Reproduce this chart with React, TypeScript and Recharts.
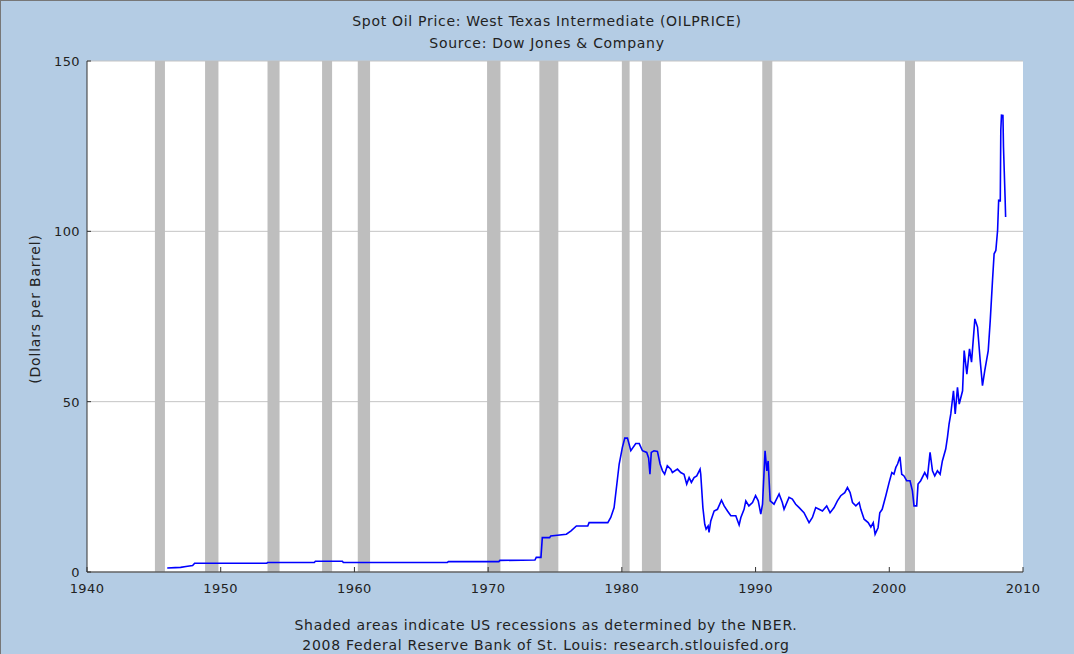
import React from "react";
import { LineChart, Line, XAxis, YAxis, CartesianGrid, ReferenceArea } from "recharts";

// WTI spot price: [decimal year, dollars per barrel]
const postwar: [number, number][] = [
  [1946.0, 1.17], [1946.6, 1.27], [1947.0, 1.37], [1947.4, 1.62], [1947.9, 1.92],
  [1948.05, 2.57], [1953.45, 2.57], [1953.5, 2.8], [1957.0, 2.8], [1957.08, 3.15],
  [1959.1, 3.15], [1959.17, 2.8], [1966.95, 2.8], [1967.03, 3.05], [1970.8, 3.05],
  [1970.88, 3.4], [1973.5, 3.5], [1973.6, 4.3], [1973.95, 4.3],
];

const seventies: [number, number][] = [
  [1974.05, 10.1], [1974.6, 10.1], [1974.68, 10.6], [1975.85, 11.1], [1976.2, 12.1],
  [1976.6, 13.5], [1977.45, 13.5], [1977.55, 14.5], [1978.95, 14.5], [1979.17, 16],
  [1979.42, 18.9], [1979.67, 27.3], [1979.8, 31.7], [1980.04, 36.6], [1980.22, 39.3],
  [1980.42, 39.3], [1980.67, 35.6], [1981.04, 37.7], [1981.3, 37.7], [1981.54, 35.6],
  [1981.86, 35.1], [1982.0, 33.5], [1982.1, 28.7], [1982.2, 35.1], [1982.4, 35.6],
  [1982.66, 35.4], [1982.86, 31.7],
];

const eighties: [number, number][] = [
  [1983.04, 29.7], [1983.2, 28.7], [1983.4, 31.2], [1983.66, 30.2], [1983.78, 29.2],
  [1984.16, 30.2], [1984.4, 29.2], [1984.65, 28.7], [1984.85, 25.8], [1985.03, 27.7],
  [1985.2, 26.3], [1985.4, 27.7], [1985.6, 28.2], [1985.85, 30.2], [1985.9, 28.7],
  [1986.06, 18.9], [1986.2, 14], [1986.3, 12.6], [1986.45, 13.5], [1986.52, 11.6],
  [1986.65, 15], [1986.9, 17.9], [1987.15, 18.4], [1987.45, 21.1], [1987.65, 19.4],
  [1987.9, 17.9], [1988.15, 16.5], [1988.52, 16.5], [1988.77, 13.8], [1988.9, 16],
  [1989.14, 18.4], [1989.27, 20.9], [1989.5, 19.4], [1989.77, 20.4],
];

const nineties: [number, number][] = [
  [1990.0, 22.4], [1990.2, 20.9], [1990.39, 17], [1990.52, 19.9], [1990.71, 35.6],
  [1990.84, 29.7], [1990.94, 32.6], [1991.09, 20.9], [1991.38, 19.9], [1991.76, 22.9],
  [1992.0, 20.4], [1992.13, 18.4], [1992.5, 21.9], [1992.75, 21.4], [1993.0, 19.9],
  [1993.26, 18.9], [1993.62, 17.4], [1994.0, 14.5], [1994.25, 16], [1994.5, 18.9],
  [1994.75, 18.4], [1995.0, 17.9], [1995.32, 19.4], [1995.57, 17.4], [1995.87, 18.9],
  [1996.12, 20.9], [1996.37, 22.4], [1996.67, 23.3], [1996.87, 24.8], [1997.07, 23.3],
  [1997.25, 20.4], [1997.5, 19.4], [1997.75, 20.4], [1997.87, 18.4], [1998.12, 15.5],
  [1998.42, 14.5], [1998.62, 13.2], [1998.8, 14.5], [1998.94, 11.1], [1999.16, 13],
  [1999.29, 17.4], [1999.47, 18.4], [1999.74, 22.4], [1999.99, 26.3],
];

const twoThousands: [number, number][] = [
  [2000.19, 29.2], [2000.35, 28.7], [2000.49, 30.7], [2000.62, 31.7], [2000.8, 33.8],
  [2000.93, 28.7], [2001.1, 28.2], [2001.3, 26.8], [2001.55, 26.8], [2001.73, 23.8],
  [2001.85, 19.4], [2002.05, 19.4], [2002.15, 25.8], [2002.35, 26.8], [2002.65, 29.2],
  [2002.85, 27.7], [2003.05, 35.1], [2003.23, 29.7], [2003.4, 28.2], [2003.6, 29.7],
  [2003.8, 28.7], [2003.97, 32.6], [2004.22, 36.1], [2004.35, 39.5], [2004.47, 43.4],
  [2004.6, 46.4], [2004.8, 53.2], [2004.93, 46.4], [2005.1, 54.2], [2005.23, 49.3],
  [2005.48, 53.2], [2005.6, 65], [2005.8, 58.1], [2006.0, 65.5], [2006.15, 61.6],
  [2006.4, 74.3], [2006.6, 71.9], [2006.8, 62], [2006.97, 54.7], [2007.14, 59.1],
  [2007.4, 65], [2007.55, 73.8], [2007.72, 85.6], [2007.84, 93.4], [2007.97, 94.4],
  [2008.1, 100.3], [2008.18, 109.1], [2008.3, 109], [2008.34, 129.7], [2008.39, 134.1],
  [2008.5, 134], [2008.54, 124.8], [2008.66, 110], [2008.7, 104.2],
];

// NBER recessions
const recessionStarts = [1945.08, 1948.83, 1953.5, 1957.58, 1960.25, 1969.92, 1973.83, 1980.0, 1981.5, 1990.5, 2001.17];
const recessionEnds = [1945.83, 1949.83, 1954.4, 1958.33, 1961.17, 1970.92, 1975.25, 1980.58, 1982.92, 1991.25, 2001.92];

const xTicks = [1940, 1950, 1960, 1970, 1980, 1990, 2000, 2010];
const yTicks = [0, 50, 100, 150];

const data = [...postwar, ...seventies, ...eighties, ...nineties, ...twoThousands].map(([year, price]) => ({
  year,
  price,
}));

const BG = "#b4cce4";
const FONT = "'DejaVu Sans', Verdana, sans-serif";
const TEXT = "#222";

const XTick = (props: any) => {
  const { x, y, payload } = props;
  return (
    <g>
      <line x1={x} x2={x} y1={y} y2={y - 5} stroke="#333" />
      <text x={x} y={y + 21} textAnchor="middle" fontSize={13} letterSpacing={0.4} fontFamily={FONT} fill={TEXT}>
        {payload.value}
      </text>
    </g>
  );
};

const YTick = (props: any) => {
  const { x, y, payload } = props;
  return (
    <g>
      <line x1={x} x2={x + 4} y1={y} y2={y} stroke="#333" />
      <text x={x - 7} y={y + 5} textAnchor="end" fontSize={13} letterSpacing={0.4} fontFamily={FONT} fill={TEXT}>
        {payload.value}
      </text>
    </g>
  );
};

export default function App() {
  return (
    <div
      style={{
        position: "absolute",
        left: 0,
        top: 0,
        width: 1074,
        height: 654,
        background: BG,
        borderTop: "1px solid #777",
        borderLeft: "1px solid #777",
        boxSizing: "border-box",
        fontFamily: FONT,
        color: TEXT,
      }}
    >
      <div
        style={{
          position: "absolute",
          left: 0,
          width: 1092,
          top: 9,
          textAlign: "center",
          fontSize: 14,
          letterSpacing: 0.7,
          lineHeight: "22px",
        }}
      >
        <div>Spot Oil Price: West Texas Intermediate (OILPRICE)</div>
        <div>Source: Dow Jones &amp; Company</div>
      </div>
      <div
        style={{
          position: "absolute",
          left: 34,
          top: 308,
          transform: "translate(-50%, -50%) rotate(-90deg)",
          whiteSpace: "nowrap",
          fontSize: 14,
          letterSpacing: 0.8,
        }}
      >
        (Dollars per Barrel)
      </div>
      <div style={{ position: "absolute", left: 0, top: 0 }}>
        <LineChart width={1074} height={654} data={data} margin={{ top: 60, right: 52, bottom: 53, left: 0 }}>
          <CartesianGrid vertical={false} stroke="#c4c4c4" fill="#ffffff" fillOpacity={1} />
          {recessionStarts.map((s, i) => (
            <ReferenceArea key={i} x1={s} x2={recessionEnds[i]} fill="#bebebe" fillOpacity={1} stroke="none" />
          ))}
          <XAxis
            dataKey="year"
            type="number"
            domain={[1940, 2010]}
            ticks={xTicks}
            height={30}
            tickSize={0}
            tickMargin={0}
            tickLine={false}
            axisLine={{ stroke: "#333" }}
            tick={XTick}
            allowDataOverflow
          />
          <YAxis
            type="number"
            domain={[0, 150]}
            ticks={yTicks}
            width={86}
            tickSize={0}
            tickMargin={0}
            tickLine={false}
            axisLine={{ stroke: "#333" }}
            tick={YTick}
          />
          <Line
            dataKey="price"
            type="linear"
            stroke="#0000ff"
            strokeWidth={1.6}
            dot={false}
            isAnimationActive={false}
          />
        </LineChart>
      </div>
      <div
        style={{
          position: "absolute",
          left: 0,
          width: 1090,
          top: 614,
          textAlign: "center",
          fontSize: 14,
          letterSpacing: 0.7,
          lineHeight: "20px",
        }}
      >
        <div>Shaded areas indicate US recessions as determined by the NBER.</div>
        <div>2008 Federal Reserve Bank of St. Louis: research.stlouisfed.org</div>
      </div>
    </div>
  );
}
